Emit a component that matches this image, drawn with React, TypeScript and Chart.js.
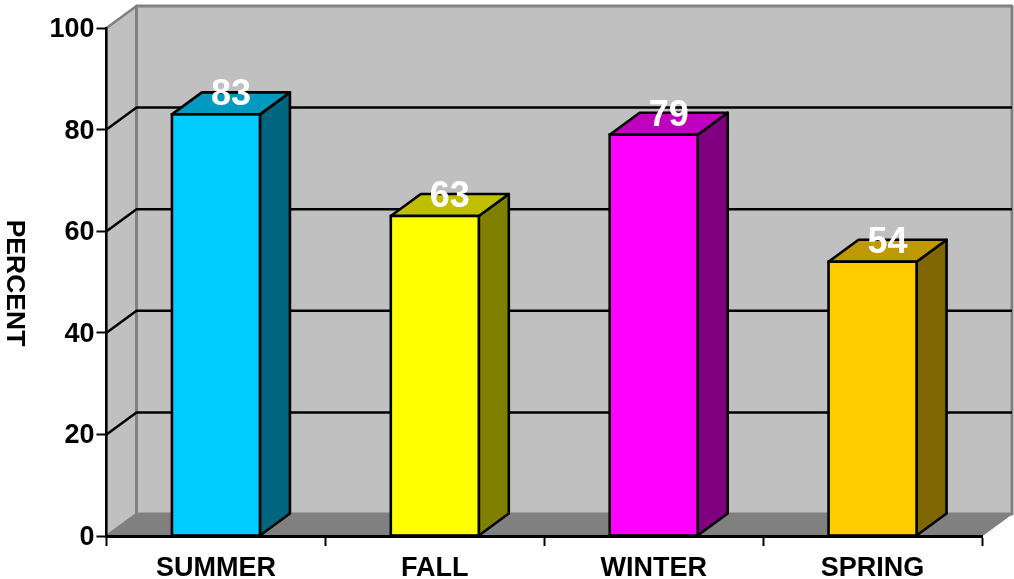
import React, { useEffect, useRef } from "react";
import { Chart, registerables } from "chart.js";

Chart.register(...registerables);

const seasons = ["SUMMER", "FALL", "WINTER", "SPRING"];
const percents = [83, 63, 79, 54];
const frontColors = ["#00CCFF", "#FFFF00", "#FF00FF", "#FFCC00"];
const topColors = ["#0099BF", "#BFBF00", "#BF00BF", "#BF9900"];
const sideColors = ["#006680", "#808000", "#800080", "#806600"];
const yAxisTitle = "PERCENT";
const FONT = '"Liberation Sans", Arial, sans-serif';
const DX = 30;
const DY = 22;
const EDGE = 2.6;

function poly(ctx: CanvasRenderingContext2D, pts: number[][], fill: string, stroke: string, lw: number) {
  ctx.beginPath();
  pts.forEach(([x, y], i) => (i ? ctx.lineTo(x, y) : ctx.moveTo(x, y)));
  ctx.closePath();
  ctx.fillStyle = fill;
  ctx.fill();
  ctx.strokeStyle = stroke;
  ctx.lineWidth = lw;
  ctx.lineJoin = "round";
  ctx.stroke();
}

const chart3d = {
  id: "chart3d",
  beforeDraw(chart: any) {
    const { ctx, chartArea: a, scales } = chart;
    const y = scales.y;
    ctx.save();
    poly(ctx, [[a.left, a.bottom], [a.left + DX, a.bottom - DY], [a.left + DX, a.top - DY], [a.left, a.top]], "#C0C0C0", "#808080", 2.5);
    poly(ctx, [[a.left + DX, a.top - DY], [a.right + DX, a.top - DY], [a.right + DX, a.bottom - DY], [a.left + DX, a.bottom - DY]], "#C0C0C0", "#808080", 3);
    poly(ctx, [[a.left, a.bottom], [a.right, a.bottom], [a.right + DX, a.bottom - DY], [a.left + DX, a.bottom - DY]], "#808080", "#808080", 1);
    ctx.strokeStyle = "#000";
    ctx.lineWidth = 2.5;
    y.ticks.forEach((t: any) => {
      if (t.value === y.min || t.value === y.max) return;
      const py = y.getPixelForValue(t.value);
      ctx.beginPath();
      ctx.moveTo(a.left, py);
      ctx.lineTo(a.left + DX, py - DY);
      ctx.lineTo(a.right + DX, py - DY);
      ctx.stroke();
    });
    ctx.restore();
  },
  beforeDatasetsDraw(chart: any) {
    const { ctx } = chart;
    ctx.save();
    chart.getDatasetMeta(0).data.forEach((b: any, i: number) => {
      const l = b.x - b.width / 2;
      const r = b.x + b.width / 2;
      poly(ctx, [[r, b.base], [r + DX, b.base - DY], [r + DX, b.y - DY], [r, b.y]], sideColors[i], "#000", EDGE);
      poly(ctx, [[l, b.y], [l + DX, b.y - DY], [r + DX, b.y - DY], [r, b.y]], topColors[i], "#000", EDGE);
    });
    ctx.restore();
  },
  afterDatasetsDraw(chart: any) {
    const { ctx } = chart;
    ctx.save();
    chart.getDatasetMeta(0).data.forEach((b: any, i: number) => {
      const l = b.x - b.width / 2;
      ctx.strokeStyle = "#000";
      ctx.lineWidth = EDGE;
      ctx.strokeRect(l, b.y, b.width, b.base - b.y);
      ctx.fillStyle = "#fff";
      ctx.font = `bold 36px ${FONT}`;
      ctx.textAlign = "center";
      ctx.textBaseline = "alphabetic";
      ctx.fillText(String(percents[i]), b.x + DX / 2, b.y - 9);
    });
    ctx.restore();
  },
  afterDraw(chart: any) {
    const { ctx, chartArea: a } = chart;
    ctx.save();
    ctx.translate(14, (a.top + a.bottom) / 2 + 1);
    ctx.rotate(Math.PI / 2);
    ctx.fillStyle = "#000";
    ctx.font = `bold 26.5px ${FONT}`;
    ctx.textAlign = "center";
    ctx.textBaseline = "middle";
    ctx.fillText(yAxisTitle, 0, 0);
    ctx.restore();
  },
};

export default function App() {
  const ref = useRef<HTMLCanvasElement>(null);
  useEffect(() => {
    const chart = new Chart(ref.current!, {
      type: "bar",
      data: {
        labels: seasons,
        datasets: [
          {
            data: percents,
            backgroundColor: frontColors,
            borderWidth: 0,
            barThickness: 88,
          },
        ],
      },
      options: {
        responsive: false,
        animation: false,
        devicePixelRatio: 1,
        layout: { padding: { top: 28, right: 32, bottom: 0, left: 0 } },
        plugins: { legend: { display: false }, tooltip: { enabled: false }, title: { display: false } },
        scales: {
          x: {
            afterFit: (s: any) => { s.height = 43; },
            grid: { offset: true, drawOnChartArea: false, drawTicks: true, tickLength: 10, tickColor: "#000", tickWidth: 2 },
            border: { display: true, color: "#000", width: 3 },
            ticks: { color: "#000", padding: 6, maxRotation: 0, font: { family: FONT, size: 27, weight: "bold" } },
          },
          y: {
            min: 0,
            max: 100,
            afterFit: (s: any) => { s.width = 106.5; },
            grid: { drawOnChartArea: false, drawTicks: true, tickLength: 10, tickColor: "#000", tickWidth: 2 },
            border: { display: true, color: "#000", width: 2.5 },
            ticks: { stepSize: 20, color: "#000", padding: 2, labelOffset: 1.5, font: { family: FONT, size: 27, weight: "bold" } },
          },
        },
      },
      plugins: [chart3d],
    } as any);
    return () => chart.destroy();
  }, []);
  return (
    <div style={{ position: "absolute", left: 0, top: 0, width: 1014, height: 579, background: "#fff" }}>
      <canvas ref={ref} width={1014} height={579} style={{ display: "block" }} />
    </div>
  );
}
